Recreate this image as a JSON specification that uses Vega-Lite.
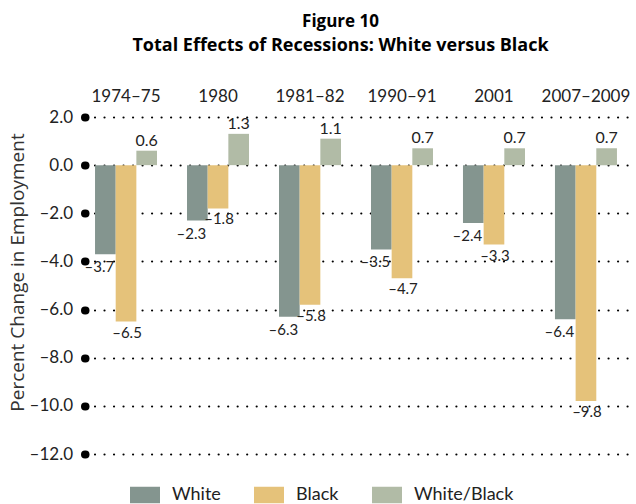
{
  "$schema": "https://vega.github.io/schema/vega-lite/v6.json",
  "width": 551,
  "height": 337,
  "autosize": "none",
  "padding": {"left": 85, "top": 117, "right": 0, "bottom": 50},
  "background": "white",
  "config": {
    "font": "Lato",
    "view": {"stroke": null},
    "axis": {"labelFont": "Lato", "titleFont": "Open Sans"},
    "legend": {"labelFont": "Lato"},
    "locale": {
      "number": {"decimal": ".", "thousands": ",", "grouping": [3], "currency": ["$", ""], "minus": "–"}
    }
  },
  "title": {
    "text": "Figure 10",
    "subtitle": "Total Effects of Recessions: White versus Black",
    "anchor": "middle",
    "frame": "group",
    "dx": -20,
    "offset": 31,
    "font": "Open Sans",
    "fontSize": 17,
    "fontWeight": "bold",
    "color": "#000",
    "subtitleFont": "Open Sans",
    "subtitleFontSize": 18,
    "subtitleFontWeight": "bold",
    "subtitleColor": "#000",
    "subtitlePadding": 6
  },
  "data": {
    "values": [
      {"period": "1974–75", "series": "White", "value": -3.7},
      {"period": "1974–75", "series": "Black", "value": -6.5},
      {"period": "1974–75", "series": "White/Black", "value": 0.6},
      {"period": "1980", "series": "White", "value": -2.3},
      {"period": "1980", "series": "Black", "value": -1.8},
      {"period": "1980", "series": "White/Black", "value": 1.3},
      {"period": "1981–82", "series": "White", "value": -6.3},
      {"period": "1981–82", "series": "Black", "value": -5.8},
      {"period": "1981–82", "series": "White/Black", "value": 1.1},
      {"period": "1990–91", "series": "White", "value": -3.5},
      {"period": "1990–91", "series": "Black", "value": -4.7},
      {"period": "1990–91", "series": "White/Black", "value": 0.7},
      {"period": "2001", "series": "White", "value": -2.4},
      {"period": "2001", "series": "Black", "value": -3.3},
      {"period": "2001", "series": "White/Black", "value": 0.7},
      {"period": "2007–2009", "series": "White", "value": -6.4},
      {"period": "2007–2009", "series": "Black", "value": -9.8},
      {"period": "2007–2009", "series": "White/Black", "value": 0.7}
    ]
  },
  "encoding": {
    "x": {
      "field": "period",
      "type": "nominal",
      "sort": null,
      "scale": {"paddingInner": 0.326, "paddingOuter": 0.158, "align": 0.345},
      "axis": {
        "orient": "top",
        "title": null,
        "ticks": false,
        "domain": false,
        "labelAngle": 0,
        "labelPadding": 12,
        "labelFontSize": 17,
        "labelColor": "#222"
      }
    },
    "xOffset": {
      "field": "series",
      "type": "nominal",
      "sort": ["White", "Black", "White/Black"],
      "scale": {"paddingInner": 0, "paddingOuter": 0}
    },
    "y": {
      "field": "value",
      "type": "quantitative",
      "scale": {"domain": [-12, 2], "nice": false, "zero": false},
      "axis": {
        "values": [-12, -10, -8, -6, -4, -2, 0, 2],
        "format": ".1f",
        "domain": false,
        "grid": true,
        "gridColor": "#000",
        "gridDash": [0.01, 9.5],
        "gridCap": "round",
        "gridWidth": 2.2,
        "tickColor": "#000",
        "tickSize": 0.5,
        "tickWidth": 8,
        "tickCap": "round",
        "labelPadding": 12,
        "labelFontSize": 17,
        "labelColor": "#222",
        "title": "Percent Change in Employment",
        "titleFontSize": 19,
        "titleFontWeight": "normal",
        "titleColor": "#333",
        "titleX": -58,
        "titleY": 155
      }
    }
  },
  "layer": [
    {
      "mark": {"type": "bar"},
      "encoding": {
        "color": {
          "field": "series",
          "type": "nominal",
          "sort": ["White", "Black", "White/Black"],
          "scale": {"domain": ["White", "Black", "White/Black"], "range": ["#84958f", "#e5c27a", "#b1bba6"]},
          "legend": {
            "title": null,
            "orient": "none",
            "direction": "horizontal",
            "legendX": 45,
            "legendY": 363,
            "symbolType": "M-1,-0.55H1V0.55H-1Z",
            "symbolSize": 900,
            "symbolStrokeWidth": 0,
            "symbolOpacity": 1,
            "labelFontSize": 18,
            "labelColor": "#222",
            "labelOffset": 12,
            "columnPadding": 33,
            "padding": 0
          }
        }
      }
    },
    {
      "data": {"values": [{"z": 0}]},
      "mark": {"type": "rule", "color": "#666", "strokeWidth": 2},
      "encoding": {"x": null, "xOffset": null, "y": {"datum": 0}}
    },
    {
      "transform": [{"filter": "datum.value >= 0"}],
      "mark": {"type": "text", "baseline": "bottom", "dy": -2, "fontSize": 16, "color": "#222"},
      "encoding": {"text": {"field": "value", "type": "quantitative", "format": ".1f"}}
    },
    {
      "transform": [{"filter": "datum.value < 0 && datum.series == 'White'"}],
      "mark": {"type": "text", "baseline": "top", "dy": 6, "dx": -6, "fontSize": 15, "color": "#222"},
      "encoding": {"text": {"field": "value", "type": "quantitative", "format": ".1f"}}
    },
    {
      "transform": [{"filter": "datum.value < 0 && datum.series == 'Black'"}],
      "mark": {"type": "text", "baseline": "top", "dy": 4, "dx": 1, "fontSize": 15, "color": "#222"},
      "encoding": {"text": {"field": "value", "type": "quantitative", "format": ".1f"}}
    }
  ]
}
